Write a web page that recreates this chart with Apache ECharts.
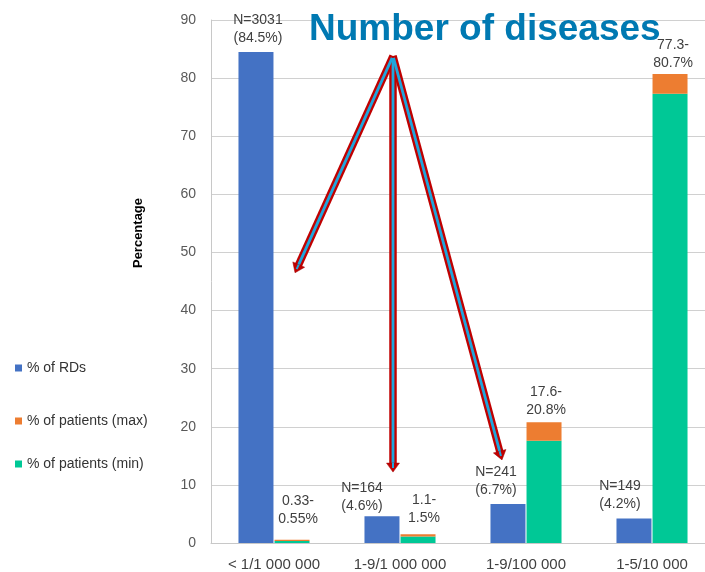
<!DOCTYPE html>
<html>
<head>
<meta charset="utf-8">
<script src="https://cdn.jsdelivr.net/npm/echarts@6/dist/echarts.min.js"></script>
<style>
  html, body { margin: 0; padding: 0; background: #ffffff; overflow: hidden; }
  /* the plot runs slightly past the right window edge */
  #chart { width: 715px; height: 572px; }
</style>
</head>
<body>
<div id="chart"></div>
<script>
// Prevalence classes on the x axis
const categories = ['< 1/1 000 000', '1-9/1 000 000', '1-9/100 000', '1-5/10 000'];
// Number of rare diseases per class and their share (%)
const rdCounts = [3031, 164, 241, 149];
const rdPercent = [84.5, 4.6, 6.7, 4.2];
// Share of patients (%), lower and upper estimates
const patientsMin = [0.33, 1.1, 17.6, 77.3];
const patientsMax = [0.55, 1.5, 20.8, 80.7];
// Value axis ticks
const yMin = 0;
const yMax = 90;
const yInterval = 10;

// Small nudges for the value labels
const rdLabelOffset = [[2, 0], [-20, 4], [-12, 0], [-14, 0]];
const patientLabelOffset = [[6, -7], [6, -2], [2, 2], [3, 3]];

const FONT = '"Liberation Sans", Arial, sans-serif';
const BLUE = '#4472c4';
const ORANGE = '#ed7d31';
const GREEN = '#00c896';

const chart = echarts.init(document.getElementById('chart'));

const labelBase = {
  show: true,
  position: 'top',
  distance: 5,
  color: '#404040',
  fontFamily: FONT,
  fontSize: 14,
  lineHeight: 18,
  align: 'center'
};

const rdData = rdPercent.map((v, i) => ({
  value: v,
  label: Object.assign({}, labelBase, { offset: rdLabelOffset[i] })
}));
const minData = patientsMin.map(v => v);
const spanData = patientsMax.map((v, i) => ({
  value: +(v - patientsMin[i]).toFixed(2),
  label: Object.assign({}, labelBase, { offset: patientLabelOffset[i] })
}));

function legendAt(name, top) {
  return {
    left: 15,
    top: top,
    padding: 0,
    orient: 'vertical',
    data: [name],
    itemWidth: 7,
    itemHeight: 7,
    itemGap: 0,
    icon: 'rect',
    selectedMode: false,
    textStyle: { color: '#333333', fontFamily: FONT, fontSize: 14 }
  };
}

chart.setOption({
  animation: false,
  backgroundColor: '#ffffff',
  title: {
    text: 'Number of diseases',
    left: 309,
    top: 11,
    padding: 0,
    z: 10,
    textStyle: { color: '#0079b2', fontFamily: FONT, fontWeight: 'bold', fontSize: 37, lineHeight: 37 }
  },
  legend: [
    legendAt('% of RDs', 361),
    legendAt('% of patients (max)', 414),
    legendAt('% of patients (min)', 457)
  ],
  grid: { left: 211, right: 0, top: 20, bottom: 29, containLabel: false },
  xAxis: {
    type: 'category',
    data: categories,
    axisLine: { show: true, lineStyle: { color: '#c8c8c8', width: 1 } },
    axisTick: { show: false },
    axisLabel: { color: '#404040', fontFamily: FONT, fontSize: 15, margin: 14 }
  },
  yAxis: {
    type: 'value',
    min: yMin,
    max: yMax,
    interval: yInterval,
    axisLine: { show: true, lineStyle: { color: '#c8c8c8', width: 1 } },
    axisTick: { show: false },
    splitLine: { show: true, lineStyle: { color: '#d0d0d0', width: 1 } },
    axisLabel: { color: '#595959', fontFamily: FONT, fontSize: 14, margin: 15 }
  },
  series: [
    {
      name: '% of RDs',
      type: 'bar',
      data: rdData,
      itemStyle: { color: BLUE },
      barWidth: 35,
      barGap: '3%',
      label: Object.assign({}, labelBase, {
        formatter: p => 'N=' + rdCounts[p.dataIndex] + '\n(' + rdPercent[p.dataIndex] + '%)'
      })
    },
    {
      name: '% of patients (min)',
      type: 'bar',
      stack: 'patients',
      data: minData,
      itemStyle: { color: GREEN },
      barWidth: 35
    },
    {
      name: '% of patients (max)',
      type: 'bar',
      stack: 'patients',
      data: spanData,
      itemStyle: { color: ORANGE },
      barWidth: 35,
      label: Object.assign({}, labelBase, {
        formatter: p => patientsMin[p.dataIndex] + '-\n' + patientsMax[p.dataIndex] + '%'
      })
    }
  ]
});

// Annotation arrows fanning out from below the title.
// Anchors are given as [category index, value] plus a pixel shift along x.
const arrowApex = { cat: 1, value: 83.8, dx: -7 };
const arrowTips = [
  { cat: 0, value: 46.5, dx: 21 },
  { cat: 1, value: 12.2, dx: -7 },
  { cat: 2, value: 14.3, dx: -24 }
];

function toPixel(a) {
  const p = chart.convertToPixel({ gridIndex: 0 }, [a.cat, a.value]);
  return [p[0] + a.dx, p[1]];
}

function arrowElements(p0, p1) {
  const dx = p1[0] - p0[0], dy = p1[1] - p0[1];
  const len = Math.sqrt(dx * dx + dy * dy);
  const ux = dx / len, uy = dy / len;
  const nx = -uy, ny = ux;
  const headLen = 9, headHalf = 6.5;
  const bx = p1[0] - ux * (headLen - 2), by = p1[1] - uy * (headLen - 2);
  const baseX = p1[0] - ux * headLen, baseY = p1[1] - uy * headLen;
  return [
    { type: 'line', z: 20, shape: { x1: p0[0], y1: p0[1], x2: bx, y2: by },
      style: { stroke: '#c00000', lineWidth: 7.5, lineCap: 'butt' } },
    { type: 'line', z: 21, shape: { x1: p0[0] + ux * 2, y1: p0[1] + uy * 2, x2: bx, y2: by },
      style: { stroke: '#1fa6dc', lineWidth: 2.8, lineCap: 'butt' } },
    { type: 'polygon', z: 22, shape: { points: [
        [p1[0], p1[1]],
        [baseX + nx * headHalf, baseY + ny * headHalf],
        [baseX - nx * headHalf, baseY - ny * headHalf]
      ] },
      style: { fill: '#c00000', stroke: '#a00000', lineWidth: 0.5 } },
    { type: 'line', z: 23, shape: { x1: baseX, y1: baseY, x2: p1[0] - ux * 4, y2: p1[1] - uy * 4 },
      style: { stroke: '#1fa6dc', lineWidth: 2, lineCap: 'butt' } }
  ];
}

const apex = toPixel(arrowApex);
let graphics = [];
arrowTips.forEach(t => { graphics = graphics.concat(arrowElements(apex, toPixel(t))); });

graphics.push({
  type: 'text',
  x: 138,
  y: 233,
  rotation: Math.PI / 2,
  z: 5,
  style: {
    text: 'Percentage',
    fill: '#000000',
    font: 'bold 13px ' + FONT,
    align: 'center',
    verticalAlign: 'middle'
  }
});

chart.setOption({ graphic: graphics });
</script>
</body>
</html>
